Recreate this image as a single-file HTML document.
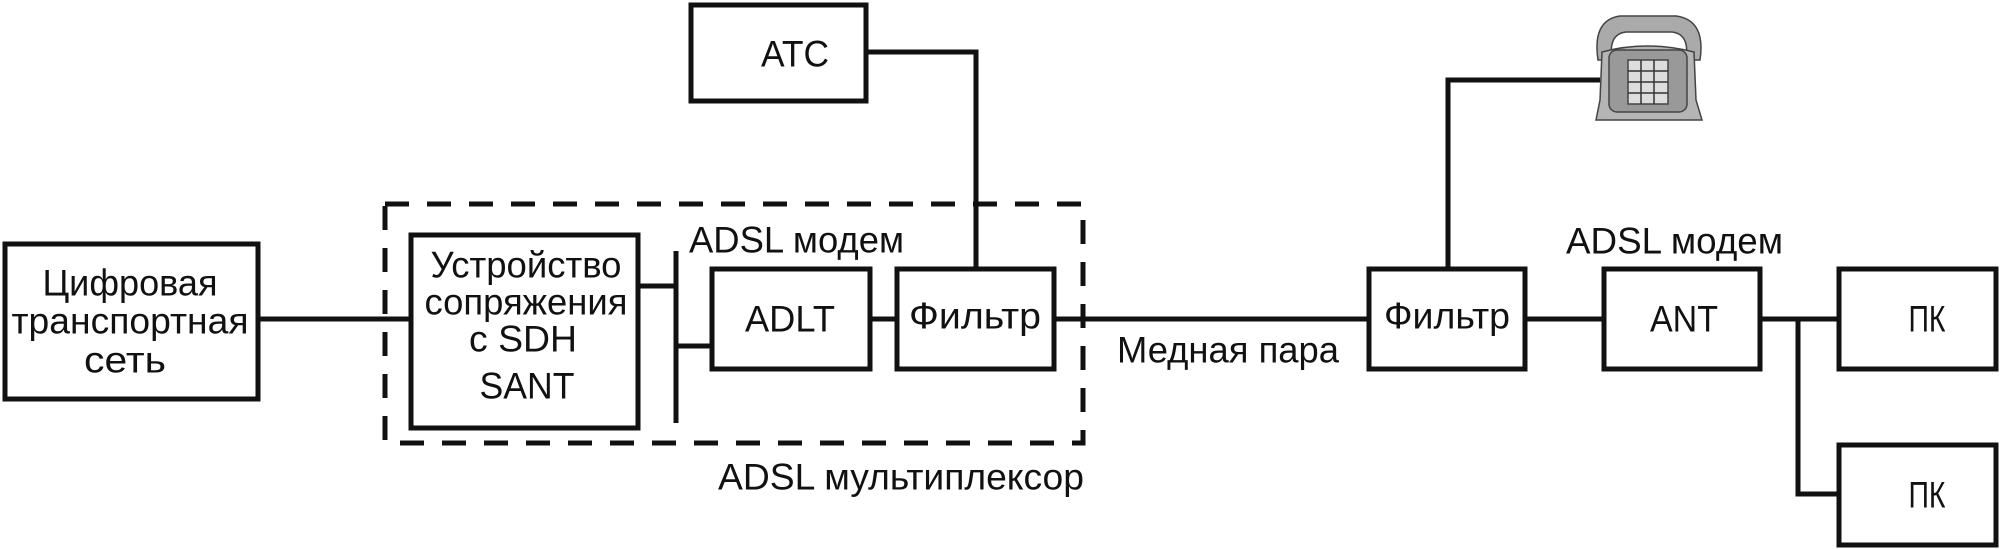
<!DOCTYPE html>
<html><head><meta charset="utf-8"><style>
html,body{margin:0;padding:0;background:#fff;}
svg{display:block;}
text{font-family:"Liberation Sans",sans-serif;font-size:37px;fill:#111;dominant-baseline:central;}
</style></head><body>
<svg width="2000" height="549" viewBox="0 0 2000 549" xmlns="http://www.w3.org/2000/svg">
<g fill="none" stroke="#111" stroke-width="5">
<rect x="5" y="244" width="253" height="155"/>
<rect x="411" y="235" width="227" height="193"/>
<rect x="712" y="269" width="158" height="100"/>
<rect x="897" y="269" width="157" height="100"/>
<rect x="691" y="5" width="175" height="96"/>
<rect x="1369" y="269" width="156" height="100"/>
<rect x="1604" y="269" width="156" height="100"/>
<rect x="1839" y="269" width="157" height="100"/>
<rect x="1839" y="445" width="157" height="100"/>
<path d="M258 319H411M638 286H676M676 251V423M676 346H712M870 319H897M1054 319H1369M1525 319H1604M1760 319H1839M1798 319V494H1839M866 52H976V269M1448 269V80H1600"/>
</g>
<rect x="385" y="204" width="698" height="239" fill="none" stroke="#111" stroke-width="5" stroke-dasharray="24,18"/>
<!-- phone -->
<g stroke="#444" stroke-width="1.5">
<path d="M1598 60 Q1592 20 1620 16 L1676 16 Q1706 20 1700 60 L1686 60 Q1690 34 1672 32 L1626 32 Q1608 34 1612 60 Z" fill="#aaa"/>
<path d="M1600 100 L1602 52 Q1646 40 1694 52 L1696 100 L1702 120 L1596 120 L1600 100 Z" fill="#b5b5b5"/>
<rect x="1609" y="50" width="78" height="62" rx="8" fill="#999"/>
<rect x="1628" y="60" width="40" height="44" fill="#ddd"/>
</g>
<g stroke="#333" stroke-width="1.5">
<path d="M1628 71H1668M1628 82H1668M1628 93H1668M1641 60V104M1654 60V104"/>
</g>
<text x="130" y="283" text-anchor="middle" textLength="175" lengthAdjust="spacingAndGlyphs">Цифровая</text>
<text x="130" y="321" text-anchor="middle" textLength="237" lengthAdjust="spacingAndGlyphs">транспортная</text>
<text x="125" y="360" text-anchor="middle" textLength="82" lengthAdjust="spacingAndGlyphs">сеть</text>
<text x="526" y="265" text-anchor="middle" textLength="191" lengthAdjust="spacingAndGlyphs">Устройство</text>
<text x="526" y="302" text-anchor="middle" textLength="203" lengthAdjust="spacingAndGlyphs">сопряжения</text>
<text x="523" y="339" text-anchor="middle" textLength="108" lengthAdjust="spacingAndGlyphs">с SDH</text>
<text x="527" y="386" text-anchor="middle" textLength="95" lengthAdjust="spacingAndGlyphs">SANT</text>
<text x="795" y="54" text-anchor="middle" textLength="68" lengthAdjust="spacingAndGlyphs">АТС</text>
<text x="790" y="319" text-anchor="middle" textLength="90" lengthAdjust="spacingAndGlyphs">ADLT</text>
<text x="975" y="316" text-anchor="middle" textLength="132" lengthAdjust="spacingAndGlyphs">Фильтр</text>
<text x="1447" y="316" text-anchor="middle" textLength="126" lengthAdjust="spacingAndGlyphs">Фильтр</text>
<text x="1684" y="319" text-anchor="middle" textLength="68" lengthAdjust="spacingAndGlyphs">ANT</text>
<text x="1927" y="319" text-anchor="middle" textLength="37" lengthAdjust="spacingAndGlyphs">ПК</text>
<text x="1927" y="495" text-anchor="middle" textLength="37" lengthAdjust="spacingAndGlyphs">ПК</text>
<text x="689" y="240" textLength="215" lengthAdjust="spacingAndGlyphs">ADSL модем</text>
<text x="1566" y="241" textLength="217" lengthAdjust="spacingAndGlyphs">ADSL модем</text>
<text x="718" y="477" textLength="366" lengthAdjust="spacingAndGlyphs">ADSL мультиплексор</text>
<text x="1117" y="350" textLength="222" lengthAdjust="spacingAndGlyphs">Медная пара</text>
</svg>
</body></html>
